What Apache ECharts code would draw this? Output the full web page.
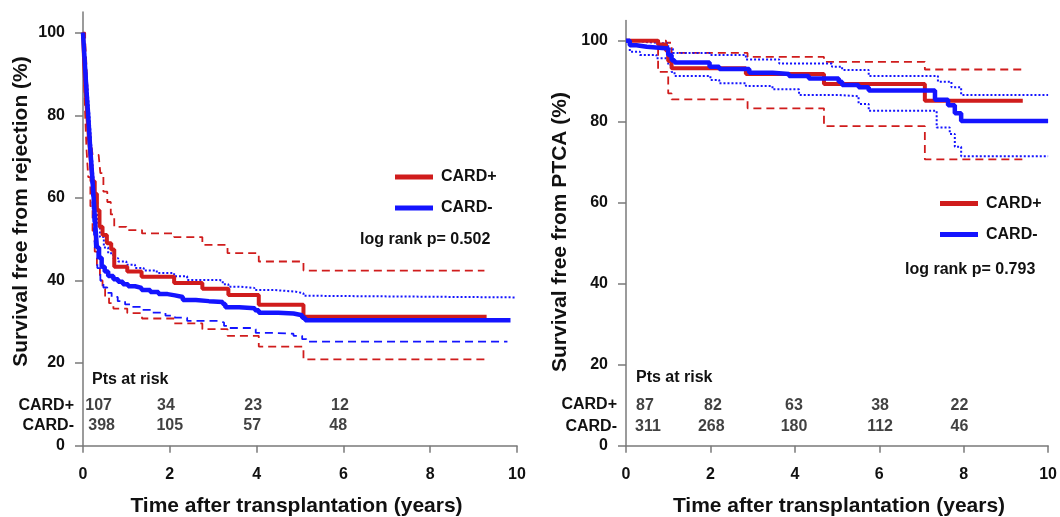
<!DOCTYPE html>
<html>
<head>
<meta charset="utf-8">
<script src="https://cdn.jsdelivr.net/npm/echarts@6/dist/echarts.min.js"></script>
<style>
  html, body { margin: 0; padding: 0; background: #fff; }
  #chart { width: 1060px; height: 517px; }
</style>
</head>
<body>
<div id="chart"></div>
<script>
// survival free from rejection (left)
var rejPos = [[0,100],[0.03,92],[0.06,86],[0.1,80],[0.14,74],[0.18,69],[0.22,64],[0.27,61],[0.32,57],[0.38,53],[0.45,51],[0.55,49],[0.65,47.5],[0.72,43.3],[1.02,42.2],[1.35,40.9],[2.1,39.4],[2.75,38],[3.35,36.5],[4.05,34.1],[5.08,31.2],[9.3,31.2]];
var rejPosHi = [[0,100],[0.05,98],[0.08,92],[0.11,85],[0.14,79],[0.18,74],[0.22,70.4],[0.36,70.4],[0.4,66],[0.47,61.5],[0.56,59],[0.64,56],[0.72,53],[1.0,52.2],[1.36,51.4],[2.1,50.5],[2.75,48.6],[3.33,46.6],[4.05,44.6],[5.08,42.4],[9.25,42.4]];
var rejPosLo = [[0,100],[0.02,92],[0.05,80],[0.08,72],[0.12,65],[0.17,58],[0.22,52],[0.27,47],[0.32,43.3],[0.39,40],[0.45,38],[0.51,36],[0.6,34.5],[0.7,33.2],[1.02,32.1],[1.36,30.8],[2.1,29.6],[2.75,28.2],[3.33,26.6],[4.05,24.0],[5.08,20.9],[9.3,20.9]];
var rejNeg = [[0,100],[0.04,93],[0.08,86],[0.12,80],[0.16,73],[0.2,67],[0.24,61],[0.28,54],[0.32,48],[0.37,45.5],[0.43,43.3],[0.5,42.2],[0.58,41.1],[0.7,40.3],[0.81,39.7],[0.92,39.1],[1.04,38.6],[1.2,38.2],[1.35,37.7],[1.55,37.2],[1.74,36.7],[1.95,36.4],[2.12,36.0],[2.3,35.3],[2.6,35.0],[2.9,34.8],[3.22,34.3],[3.28,33.5],[3.6,33.3],[3.96,32.8],[4.05,32.2],[4.5,32.0],[4.85,31.6],[5.05,31.0],[5.12,30.4],[9.85,30.4]];
var rejNegHi = [[0,100],[0.04,96],[0.08,90],[0.12,84],[0.16,78],[0.2,71],[0.24,65],[0.28,59],[0.33,54],[0.39,50.5],[0.48,48],[0.58,46.6],[0.7,45.4],[0.81,44.6],[1.0,43.8],[1.2,43.0],[1.4,42.4],[1.7,41.8],[2.1,41.0],[2.4,40.1],[3.15,39.9],[3.22,39.1],[3.35,38.5],[3.6,38.2],[3.95,37.7],[4.4,37.3],[4.9,36.9],[5.08,36.3],[5.2,35.9],[9.98,35.9]];
var rejNegLo = [[0,100],[0.04,92],[0.08,84],[0.12,76],[0.16,69],[0.2,62],[0.24,54],[0.28,47],[0.33,43],[0.4,40],[0.47,38.3],[0.56,37],[0.66,36],[0.8,35],[0.97,34.2],[1.15,33.6],[1.35,32.9],[1.6,32.2],[1.9,31.5],[2.12,31.0],[2.4,30.2],[3.15,29.8],[3.25,29.0],[3.35,28.5],[3.9,28.2],[3.98,27.3],[4.4,27.1],[4.85,26.6],[5.05,25.8],[5.15,25.2],[9.78,25.2]];
var rejRiskTimesPos = [0.36, 1.91, 3.92, 5.92];
var rejRiskPos = [107, 34, 23, 12];
var rejRiskTimesNeg = [0.43, 2.0, 3.9, 5.88];
var rejRiskNeg = [398, 105, 57, 48];

// survival free from PTCA (right)
var ptcaPos = [[0,100],[0.76,99.1],[0.95,97.5],[1.0,95],[1.08,93.2],[2.84,91.8],[4.69,89.3],[7.08,85.2],[9.4,85.2]];
var ptcaPosHi = [[0,100],[0.95,99.5],[1.08,97.0],[2.88,96.0],[4.69,94.8],[7.08,92.9],[9.43,92.9]];
var ptcaPosLo = [[0,100],[0.76,92.3],[1.0,87],[1.08,85.5],[2.88,83.3],[4.69,78.9],[7.08,70.7],[9.4,70.7]];
var ptcaNeg = [[0,100],[0.09,98.9],[0.25,98.5],[0.49,98.1],[1.0,96.5],[1.08,95.2],[1.15,94.6],[1.98,93.6],[2.21,93.0],[2.92,92.1],[3.47,91.8],[3.86,91.3],[4.33,90.7],[5.04,89.9],[5.12,89.1],[5.51,88.5],[5.75,87.7],[7.32,85.4],[7.63,84.1],[7.79,82.1],[7.94,80.2],[10,80.2]];
var ptcaNegHi = [[0,100],[0.2,99.6],[0.57,99.3],[1.0,98],[1.11,97.0],[1.98,96.5],[2.84,95.4],[3.63,94.4],[4.88,93.6],[5.12,92.8],[5.75,91.3],[7.39,89.9],[7.71,88.5],[7.94,86.6],[10,86.6]];
var ptcaNegLo = [[0,100],[0.09,97.3],[0.33,96.5],[0.72,95.7],[1.0,94.0],[1.08,92.3],[1.15,91.3],[2.0,90.3],[2.21,89.5],[2.84,88.8],[3.47,88.0],[4.1,86.6],[5.04,86.3],[5.51,84.4],[5.75,82.7],[7.36,78.6],[7.67,77.0],[7.79,73.8],[7.94,71.5],[10,71.5]];
var ptcaRiskTimesPos = [0.45, 2.06, 3.98, 6.02, 7.9];
var ptcaRiskPos = [87, 82, 63, 38, 22];
var ptcaRiskTimesNeg = [0.52, 2.02, 3.98, 6.02, 7.9];
var ptcaRiskNeg = [311, 268, 180, 112, 46];

var yTicks = [0, 20, 40, 60, 80, 100];

var RED = '#d01c1c';
var BLUE = '#1414ff';
var FONT = '"Liberation Sans", Arial, sans-serif';
var TXT = '#111';

var chart = echarts.init(document.getElementById('chart'));

function xAxis(idx) {
    return {
        type: 'value', gridIndex: idx, min: 0, max: 10, interval: 2,
        axisLine: { lineStyle: { color: '#7a7a7a', width: 1.5 } },
        axisTick: { length: 7, lineStyle: { color: '#7a7a7a', width: 1.5 } },
        axisLabel: { fontFamily: FONT, fontSize: 16, fontWeight: 'bold', color: TXT, margin: 21 },
        splitLine: { show: false }
    };
}
function yAxis(idx) {
    return {
        type: 'value', gridIndex: idx, min: 0, max: 105,
        axisLine: { show: true, lineStyle: { color: '#7a7a7a', width: 1.5 } },
        axisTick: { show: true, length: 8, customValues: yTicks, lineStyle: { color: '#7a7a7a', width: 1.5 } },
        axisLabel: { customValues: yTicks, fontFamily: FONT, fontSize: 16, fontWeight: 'bold', color: TXT, margin: 18 },
        splitLine: { show: false }
    };
}
function km(name, data, idx, color, width, type, z) {
    return {
        name: name, type: 'line', step: 'end', data: data,
        xAxisIndex: idx, yAxisIndex: idx, symbol: 'none', silent: true, z: z,
        color: color,
        lineStyle: { color: color, width: width, type: type }
    };
}
function risk(times, counts, idx, rowY) {
    return {
        type: 'scatter', xAxisIndex: idx, yAxisIndex: idx, symbolSize: 0, silent: true,
        data: times.map(function (t, i) { return [t, rowY, counts[i]]; }),
        label: {
            show: true, position: 'inside', formatter: function (p) { return p.value[2]; },
            fontFamily: FONT, fontSize: 16, fontWeight: 'bold', color: TXT
        }
    };
}
function txt(x, y, text, align, size, rot) {
    return {
        type: 'text', x: x, y: y, rotation: rot || 0, silent: true,
        style: { text: text, align: align, verticalAlign: 'middle', fill: TXT,
                 font: 'bold ' + size + 'px ' + FONT }
    };
}

var legendBase = {
    orient: 'vertical', padding: 0, itemWidth: 38, itemHeight: 5, itemGap: 15, icon: 'rect',
    selectedMode: false, data: ['CARD+', 'CARD-'],
    textStyle: { fontFamily: FONT, fontSize: 16, fontWeight: 'bold', color: TXT, lineHeight: 16, padding: [0, 0, 0, 3] }
};

var option = {
    animation: false,
    backgroundColor: '#fff',
    grid: [
        { left: 83, top: 12, width: 434, height: 433.7 },
        { left: 626, top: 20.5, width: 424.7, height: 425.2 }
    ],
    xAxis: [xAxis(0), xAxis(1)],
    yAxis: [yAxis(0), yAxis(1)],
    legend: [
        Object.assign({ left: 395, top: 169 }, legendBase),
        Object.assign({ left: 940, top: 195.5 }, legendBase)
    ],
    series: [
        km('CARD+ upper', rejPosHi, 0, RED, 1.8, [8, 5], 2),
        km('CARD+ lower', rejPosLo, 0, RED, 1.8, [8, 5], 2),
        km('CARD- upper', rejNegHi, 0, BLUE, 2, [2, 2], 2),
        km('CARD- lower', rejNegLo, 0, BLUE, 1.8, [8, 5], 2),
        km('CARD+', rejPos, 0, RED, 4, 'solid', 3),
        km('CARD-', rejNeg, 0, BLUE, 4.5, 'solid', 4),
        km('CARD+ upper', ptcaPosHi, 1, RED, 1.8, [8, 5], 2),
        km('CARD+ lower', ptcaPosLo, 1, RED, 1.8, [8, 5], 2),
        km('CARD- upper', ptcaNegHi, 1, BLUE, 2, [2, 2], 2),
        km('CARD- lower', ptcaNegLo, 1, BLUE, 2, [2, 2], 2),
        km('CARD+', ptcaPos, 1, RED, 4, 'solid', 3),
        km('CARD-', ptcaNeg, 1, BLUE, 4.5, 'solid', 4),
        risk(rejRiskTimesPos, rejRiskPos, 0, 9.6),
        risk(rejRiskTimesNeg, rejRiskNeg, 0, 4.8),
        risk(ptcaRiskTimesPos, ptcaRiskPos, 1, 10.0),
        risk(ptcaRiskTimesNeg, ptcaRiskNeg, 1, 4.7)
    ],
    graphic: [
        txt(21, 211.5, 'Survival free from rejection (%)', 'center', 21, Math.PI / 2),
        txt(560, 232, 'Survival free from PTCA (%)', 'center', 21, Math.PI / 2),
        txt(296.5, 506, 'Time after transplantation (years)', 'center', 21),
        txt(839, 506, 'Time after transplantation (years)', 'center', 21),
        txt(360, 239.5, 'log rank p= 0.502', 'left', 16),
        txt(905, 270, 'log rank p= 0.793', 'left', 16),
        txt(92, 380, 'Pts at risk', 'left', 16),
        txt(636, 378, 'Pts at risk', 'left', 16),
        txt(74, 406, 'CARD+', 'right', 16),
        txt(74, 426, 'CARD-', 'right', 16),
        txt(617, 405, 'CARD+', 'right', 16),
        txt(617, 427, 'CARD-', 'right', 16)
    ]
};

chart.setOption(option);
</script>
</body>
</html>
